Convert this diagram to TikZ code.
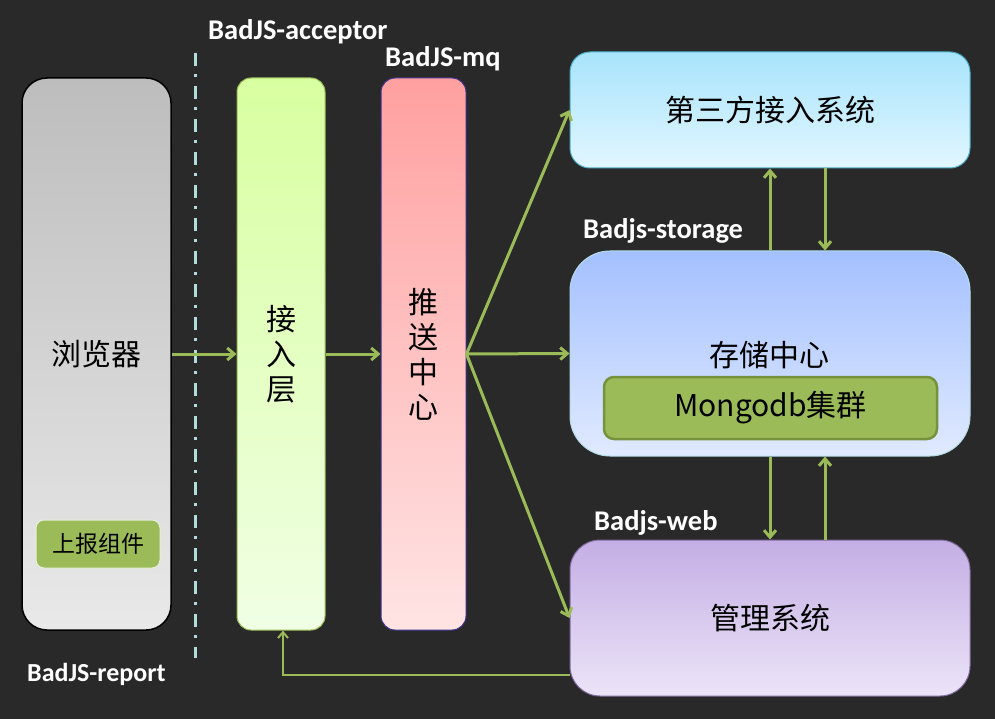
\documentclass[tikz,border=0pt]{standalone}
\usepackage{fontspec}
\setmainfont{Noto Sans CJK SC}
\newfontfamily\labfont{Carlito}
\usetikzlibrary{arrows.meta}
\definecolor{bg}{RGB}{41,41,41}
\definecolor{ogreen}{RGB}{155,187,89}
\definecolor{dgreen}{RGB}{118,146,60}
\definecolor{dashc}{RGB}{176,220,220}
\begin{document}
\begin{tikzpicture}[x=1pt,y=-1pt,
  box/.style={rectangle, inner sep=0pt, align=center, text=black, font=\fontsize{30}{35}\selectfont},
  arr/.style={draw=ogreen, line width=3pt, -{Straight Barb[length=7pt,width=12pt,line width=3pt]}},
  thinarr/.style={draw=ogreen, line width=2pt, -{Straight Barb[length=6pt,width=10pt,line width=2pt]}},
  lbl/.style={text=white, anchor=west, inner sep=0pt, font=\labfont\bfseries\fontsize{28.5}{32}\selectfont}]
\fill[bg] (0,0) rectangle (995,719);
\useasboundingbox (0,0) rectangle (995,719);
% dash-dot separator
\draw[dashc, line width=3pt, dash pattern=on 13pt off 8pt on 3pt off 9pt] (195,53) -- (195,658);
% boxes
\node[box, minimum width=149pt, minimum height=552pt, rounded corners=25pt,
  top color={rgb,255:red,189;green,189;blue,189}, bottom color={rgb,255:red,233;green,233;blue,233},
  draw=black, line width=1.5pt] (browser) at (96.5,354) {浏览器};
\node[box, minimum width=124pt, minimum height=48pt, rounded corners=8pt, fill=ogreen,
  draw={rgb,255:red,230;green,240;blue,220}, line width=1pt, font=\fontsize{23}{28}\selectfont] (report) at (98,544) {上报组件};
\node[box, minimum width=88pt, minimum height=552pt, rounded corners=14pt,
  top color={rgb,255:red,216;green,255;blue,160}, bottom color={rgb,255:red,240;green,255;blue,228},
  draw=ogreen, line width=1pt] (acc) at (281,354) {接\\入\\层};
\node[box, minimum width=85pt, minimum height=552pt, rounded corners=14pt,
  top color={rgb,255:red,255;green,160;blue,160}, bottom color={rgb,255:red,255;green,228;blue,228},
  draw={rgb,255:red,60;green,50;blue,140}, line width=1pt] (mq) at (423.5,354) {推\\送\\中\\心};
\node[box, minimum width=400pt, minimum height=116pt, rounded corners=20pt,
  top color={rgb,255:red,168;green,228;blue,252}, bottom color={rgb,255:red,226;green,246;blue,255},
  draw={rgb,255:red,75;green,172;blue,198}, line width=1pt] (third) at (770,110) {第三方接入系统};
\node[box, minimum width=400pt, minimum height=205pt, rounded corners=40pt,
  top color={rgb,255:red,164;green,192;blue,255}, bottom color={rgb,255:red,224;green,234;blue,255},
  draw={rgb,255:red,180;green,220;blue,230}, line width=1pt] (store) at (770,353.5) {};
\node[box] (storetxt) at (769,355) {存储中心};
\node[box, minimum width=333pt, minimum height=62pt, rounded corners=10pt, fill=ogreen,
  draw=dgreen, line width=2.5pt, font=\fontsize{30}{34}\selectfont] (mongo) at (770.5,408) {Mongodb集群};
\node[box, minimum width=400pt, minimum height=156pt, rounded corners=30pt,
  top color={rgb,255:red,196;green,174;blue,228}, bottom color={rgb,255:red,236;green,228;blue,248},
  draw={rgb,255:red,127;green,106;blue,159}, line width=1pt] (web) at (770,618) {管理系统};
% labels
\node[lbl] (l1) at (208,32) {BadJS-acceptor};
\node[lbl] (l2) at (385,59) {BadJS-mq};
\node[lbl] (l3) at (583,231) {Badjs-storage};
\node[lbl] (l4) at (594,523) {Badjs-web};
\node[lbl, font=\labfont\bfseries\fontsize{26}{30}\selectfont] (l5) at (27,674) {BadJS-report};
% connectors
\draw[arr] (browser.east) -- (acc.west);
\draw[arr] (acc.east) -- (mq.west);
\draw[arr] (mq.east) -- (store.west);
\draw[arr] (mq.east) -- (third.west);
\draw[arr] (mq.east) -- (web.west);
\draw[arr] (store.north) -- (third.south);
\draw[arr] ([xshift=55pt]third.south) -- ([xshift=55pt]store.north);
\draw[arr] (store.south) -- (web.north);
\draw[arr] ([xshift=55pt]web.north) -- ([xshift=55pt]store.south);
\coordinate (ret) at (570,675);
\draw[thinarr] (ret) -| ([xshift=2pt]acc.south);
\end{tikzpicture}
\end{document}
